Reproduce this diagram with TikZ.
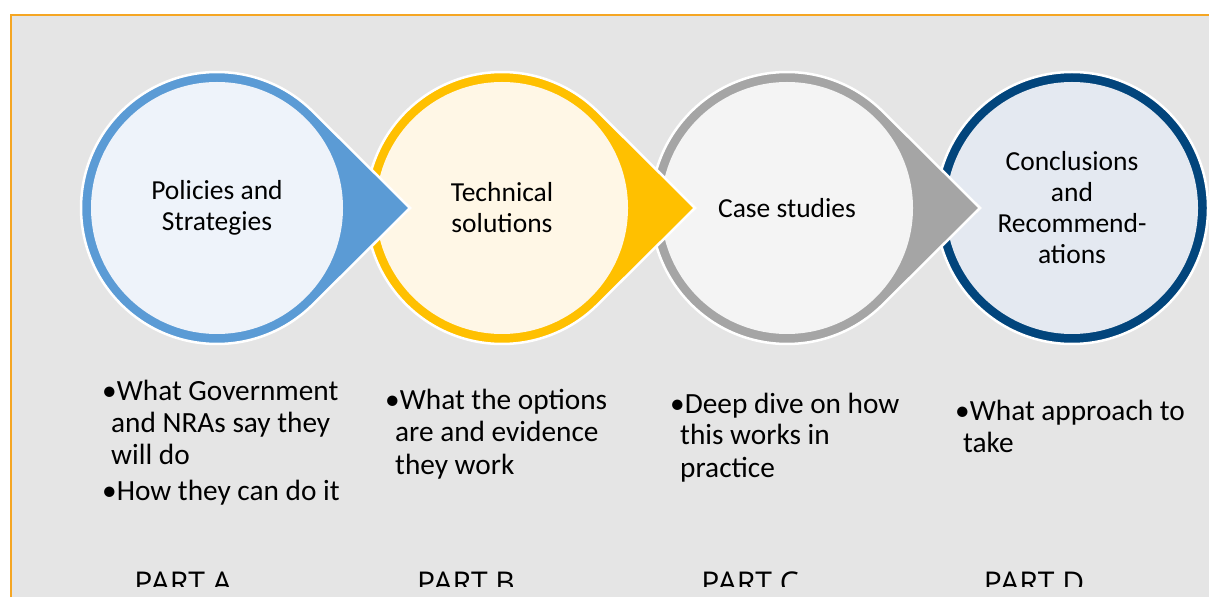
\documentclass[tikz,border=0pt]{standalone}
\usepackage{fontspec}
\setmainfont{Carlito}
\newfontfamily\partfont{Open Sans}
\usetikzlibrary{calc}
\definecolor{bgGray}{HTML}{E5E5E5}
\definecolor{frameOrange}{HTML}{F5A623}
\definecolor{ringA}{HTML}{5B9BD5}
\definecolor{fillA}{HTML}{EEF3FA}
\definecolor{ringB}{HTML}{FFC000}
\definecolor{fillB}{HTML}{FFF7E6}
\definecolor{ringC}{HTML}{A5A5A5}
\definecolor{fillC}{HTML}{F4F4F4}
\definecolor{ringD}{HTML}{02457C}
\definecolor{fillD}{HTML}{E4E9F1}
\newcommand\titlesize{\fontsize{27.5}{31}\selectfont}
\newcommand\bulsize{\fontsize{29.3}{32}\selectfont}
\tikzset{
  stage/.style={circle, minimum size=252pt, inner sep=0pt, align=center, font=\titlesize, text=black},
  pointer/.style={draw=white, line width=2.5pt, line join=miter},
  bul/.style={anchor=base west, align=left, inner sep=0pt, font=\bulsize, text=black},
  partlabel/.style={anchor=base, inner sep=0pt, font=\partfont\fontsize{30}{34}\selectfont, text=black},
}
\newcommand\pointershape[2]{%
  \path[pointer, fill=#2] ($(#1)+(45.2:136pt)$) -- ($(#1)+(193pt,0)$) -- ($(#1)+(-45.2:136pt)$)
    arc[start angle=-45.2, end angle=-314.8, radius=136pt] -- cycle;
}
\begin{document}
\begin{tikzpicture}[x=1pt,y=1pt]
\useasboundingbox (0,0) rectangle (1209,597);
\fill[bgGray] (11,0) rectangle (1209,582);
\draw[frameOrange, line width=2pt] (11,0) -- (11,582) -- (1209,582);

\coordinate (pD) at (1072,389);
\coordinate (pC) at (787,389);
\coordinate (pB) at (502,389);
\coordinate (pA) at (217,389);

% D
\path[pointer, fill=ringD] (pD) circle[radius=136pt];
\node[stage, fill=fillD] (cD) at (pD) {Conclusions\\and\\Recommend-\\ations};
% C
\pointershape{pC}{ringC}
\node[stage, fill=fillC] (cC) at (pC) {Case studies};
% B
\pointershape{pB}{ringB}
\node[stage, fill=fillB] (cB) at (pB) {Technical\\solutions};
% A
\pointershape{pA}{ringA}
\node[stage, fill=fillA] (cA) at (pA) {Policies and\\Strategies};

% bullets (anchored at the baseline of their last line)
\node[bul] (bA) at (102,96.5) {•What Government\\\hspace*{9pt}and NRAs say they\\\hspace*{9pt}will do\\[4pt]•How they can do it};
\node[bul] (bB) at (385,123) {•What the options\\\hspace*{10pt}are and evidence\\\hspace*{10pt}they work};
\node[bul] (bC) at (670,120) {•Deep dive on how\\\hspace*{10pt}this works in\\\hspace*{10pt}practice};
\node[bul] (bD) at (955,144) {•What approach to\\\hspace*{8pt}take};

% part labels (clipped at the bottom as in the original)
\begin{scope}
\clip (0,11) rectangle (1209,597);
\node[partlabel] (lA) at (183,4) {PART A};
\node[partlabel] (lB) at (466,4) {PART B};
\node[partlabel] (lC) at (750,4) {PART C};
\node[partlabel] (lD) at (1034,4) {PART D};
\end{scope}
\end{tikzpicture}
\end{document}
